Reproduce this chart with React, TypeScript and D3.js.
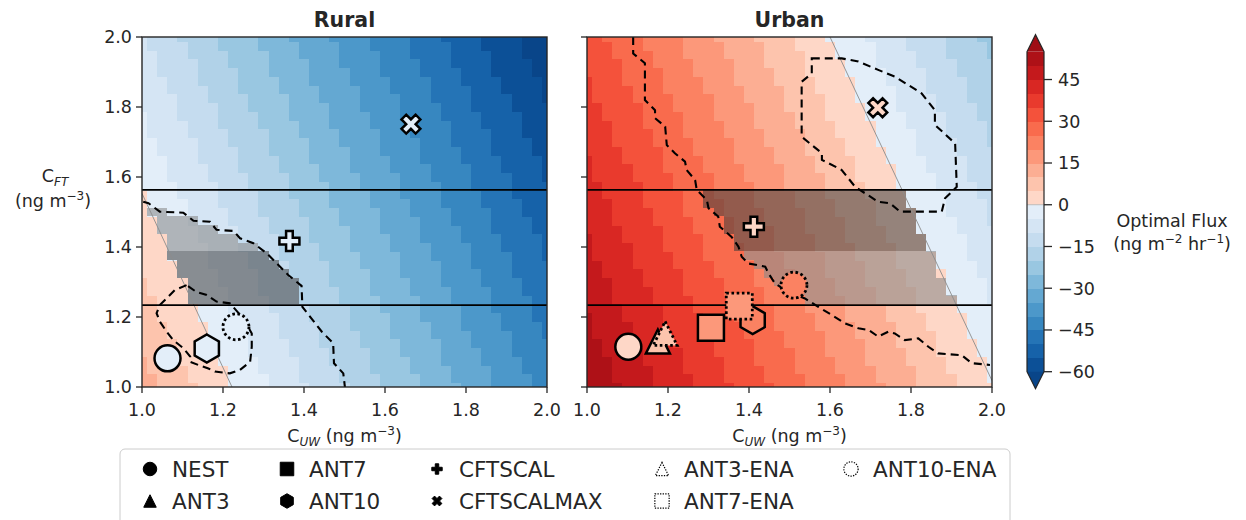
import React from "react";
import * as d3 from "d3";

// ---- data ----
const cuwDomain = [1.0, 2.0];
const cftDomain = [1.0, 2.0];
const gridSpacing = 0.025;

// optimal flux at the panel corners (1,1), (2,1), (1,2), (2,2)
const ruralCornerFlux = [12, -42, -9.7, -64];
const urbanCornerFlux = [54.4, 0.4, 32.4, -21.6];

const fluxLevels = [-60, -55, -50, -45, -40, -35, -30, -25, -20, -15, -10, -5, 0, 5, 10, 15, 20, 25, 30, 35, 40, 45, 50, 55];
const colorbarTicks = [45, 30, 15, 0, -15, -30, -45, -60];

const cftBandLines = [1.234, 1.563];
const shadeRows = [1.25, 1.55];
const shadeSplit = 1.4;

const ruralDashedMain = [
  [1.003, 1.529], [1.016, 1.525], [1.044, 1.501], [1.102, 1.498], [1.127, 1.475], [1.168, 1.472],
  [1.184, 1.449], [1.226, 1.446], [1.242, 1.425], [1.275, 1.411], [1.308, 1.382], [1.361, 1.32],
  [1.394, 1.289], [1.396, 1.229], [1.444, 1.158], [1.472, 1.125], [1.474, 1.068], [1.497, 1.039], [1.501, 1.0],
];
const ruralDashedLoop = [
  [1.110, 1.291], [1.081, 1.277], [1.044, 1.234], [1.036, 1.211], [1.044, 1.187], [1.061, 1.158],
  [1.077, 1.134], [1.102, 1.111], [1.119, 1.087], [1.119, 1.072], [1.139, 1.063], [1.164, 1.053],
  [1.180, 1.044], [1.217, 1.039], [1.242, 1.049], [1.267, 1.072], [1.271, 1.115], [1.271, 1.153],
  [1.250, 1.196], [1.225, 1.229], [1.217, 1.239], [1.184, 1.244], [1.160, 1.263], [1.135, 1.271],
];
const urbanDashedMain = [
  [1.114, 2.0], [1.114, 1.953], [1.143, 1.925], [1.143, 1.82], [1.168, 1.791], [1.168, 1.768],
  [1.193, 1.744], [1.197, 1.691], [1.217, 1.668], [1.242, 1.644], [1.246, 1.62], [1.267, 1.591],
  [1.271, 1.563], [1.296, 1.534], [1.3, 1.511], [1.324, 1.487], [1.328, 1.458], [1.357, 1.429],
  [1.374, 1.401], [1.382, 1.372], [1.398, 1.353], [1.44, 1.344], [1.448, 1.325], [1.464, 1.296],
  [1.497, 1.272], [1.538, 1.253], [1.571, 1.229], [1.604, 1.206], [1.637, 1.182], [1.67, 1.168],
  [1.695, 1.163], [1.719, 1.144], [1.744, 1.158], [1.76, 1.153], [1.785, 1.134], [1.818, 1.139],
  [1.843, 1.115], [1.867, 1.096], [1.925, 1.091], [1.95, 1.068], [1.995, 1.063],
];
const urbanDashedLoop = [
  [1.555, 1.939], [1.629, 1.939], [1.67, 1.93], [1.719, 1.906], [1.76, 1.887], [1.826, 1.839],
  [1.859, 1.791], [1.859, 1.749], [1.909, 1.696], [1.913, 1.572], [1.884, 1.539], [1.876, 1.501],
  [1.773, 1.501], [1.748, 1.525], [1.719, 1.529], [1.662, 1.572], [1.629, 1.62], [1.58, 1.649],
  [1.58, 1.668], [1.53, 1.715], [1.53, 1.872], [1.555, 1.896],
];

const legendOrder = ["NEST", "ANT3", "ANT7", "ANT10", "CFTSCAL", "CFTSCALMAX", "ANT3-ENA", "ANT7-ENA", "ANT10-ENA"];

const ruralMarkers = [
  { name: "NEST", cuw: 1.063, cft: 1.082, flux: -2 },
  { name: "ANT10", cuw: 1.16, cft: 1.11, flux: -2 },
  { name: "CFTSCAL", cuw: 1.364, cft: 1.417, flux: -1 },
  { name: "CFTSCALMAX", cuw: 1.664, cft: 1.751, flux: -1 },
  { name: "ANT10-ENA", cuw: 1.232, cft: 1.172, flux: -3 },
];
const urbanMarkers = [
  { name: "NEST", cuw: 1.102, cft: 1.115, flux: 3 },
  { name: "ANT3", cuw: 1.175, cft: 1.13, flux: 7 },
  { name: "ANT7", cuw: 1.306, cft: 1.169, flux: 18 },
  { name: "ANT10", cuw: 1.409, cft: 1.191, flux: 24 },
  { name: "CFTSCAL", cuw: 1.412, cft: 1.458, flux: 2 },
  { name: "CFTSCALMAX", cuw: 1.718, cft: 1.798, flux: 3 },
  { name: "ANT3-ENA", cuw: 1.193, cft: 1.153, flux: 7 },
  { name: "ANT7-ENA", cuw: 1.376, cft: 1.231, flux: 18 },
  { name: "ANT10-ENA", cuw: 1.511, cft: 1.291, flux: 22 },
];

// ---- styling ----
const FONT = "DejaVu Sans, sans-serif";
const INK = "#262626";
const TOP = 37, PW = 405, PH = 350;
const FS = 17.5;
const SUP = 12;

const nNeg = fluxLevels.filter(l => l < 0).length;
const nPos = fluxLevels.length - 1 - nNeg;
const bandColors = fluxLevels.slice(0, -1).map((lv, k) =>
  k < nNeg
    ? d3.interpolateBlues(0.88 - (k * (0.88 - 0.1)) / (nNeg - 1))
    : d3.interpolateReds(0.15 + ((k - nNeg) * (0.84 - 0.15)) / (nPos - 1))
);
const underColor = d3.interpolateBlues(0.92);
const overColor = d3.interpolateReds(0.88);

function fluxColor(f) {
  const lo = fluxLevels[0], hi = fluxLevels[fluxLevels.length - 1];
  if (f < lo) return underColor;
  if (f >= hi) return overColor;
  return bandColors[Math.floor((f - lo) / 5)];
}

function fieldAt(c, cuw, cft) {
  const u = (cuw - cuwDomain[0]) / (cuwDomain[1] - cuwDomain[0]);
  const v = (cft - cftDomain[0]) / (cftDomain[1] - cftDomain[0]);
  return c[0] * (1 - u) * (1 - v) + c[1] * u * (1 - v) + c[2] * (1 - u) * v + c[3] * u * v;
}

function zeroCrossings(c) {
  const pts = [];
  const edge = (a, b, mk) => {
    if ((a <= 0 && b >= 0) || (a >= 0 && b <= 0)) {
      if (a !== b) pts.push(mk(-a / (b - a)));
    }
  };
  edge(c[0], c[1], t => [1 + t, 1]);
  edge(c[2], c[3], t => [1 + t, 2]);
  edge(c[0], c[2], t => [1, 1 + t]);
  edge(c[1], c[3], t => [2, 1 + t]);
  return pts.slice(0, 2);
}

function markerKind(name) {
  if (name === "NEST" || name === "ANT10-ENA") return "circle";
  if (name.startsWith("ANT3")) return "triangle";
  if (name.startsWith("ANT7")) return "square";
  if (name === "ANT10") return "hexagon";
  if (name === "CFTSCAL") return "plus";
  return "x";
}

function markerPath(kind, s) {
  if (kind === "circle") {
    const r = 13 * s;
    return `M${r},0A${r},${r} 0 1 1 ${-r},0A${r},${r} 0 1 1 ${r},0Z`;
  }
  if (kind === "triangle") {
    const r = 12 * s;
    return `M0,${-r}L${r},${r}L${-r},${r}Z`;
  }
  if (kind === "square") {
    const r = 13 * s;
    return `M${-r},${-r}H${r}V${r}H${-r}Z`;
  }
  if (kind === "hexagon") {
    const r = 14 * s;
    return d3.range(6).map(k => {
      const a = -Math.PI / 2 + (k * Math.PI) / 3;
      return `${k ? "L" : "M"}${r * Math.cos(a)},${r * Math.sin(a)}`;
    }).join("") + "Z";
  }
  const u = (10 * s) / 3;
  const base = [[-1, -3], [-1, -1], [-3, -1], [-3, 1], [-1, 1], [-1, 3], [1, 3], [1, 1], [3, 1], [3, -1], [1, -1], [1, -3]];
  const rot = kind === "x" ? Math.PI / 4 : 0;
  return base.map(([px, py], k) => {
    const rx = px * Math.cos(rot) - py * Math.sin(rot);
    const ry = px * Math.sin(rot) + py * Math.cos(rot);
    return `${k ? "L" : "M"}${rx * u},${ry * u}`;
  }).join("") + "Z";
}

const lightShade = { fill: "#8a8a8a", opacity: 0.58 };
const darkShade = { fill: "#3c3c3c", opacity: 0.54 };

function Panel({ title, left, corners, markers, dashedLines, dashedLoops, region, sign, upperShade, lowerShade, yLabels }) {
  const x = d3.scaleLinear(cuwDomain, [left, left + PW]);
  const y = d3.scaleLinear(cftDomain, [TOP + PH, TOP]);
  const n = Math.round((cuwDomain[1] - cuwDomain[0]) / gridSpacing);
  const nodes = d3.range(n + 1).map(i => cuwDomain[0] + i * gridSpacing);
  const half = gridSpacing / 2;
  const clipId = `clip-${title}`;
  const line = d3.line().x(d => x(d[0])).y(d => y(d[1]));
  const loop = d3.line().x(d => x(d[0])).y(d => y(d[1])).curve(d3.curveLinearClosed);
  const zero = zeroCrossings(corners);

  const cells = [];
  const shades = [];
  nodes.forEach((cx, i) => {
    nodes.forEach((cy, j) => {
      const f = fieldAt(corners, cx, cy);
      const rect = {
        key: `${i}-${j}`,
        x: x(cx - half), y: y(cy + half),
        w: x(cx + half) - x(cx - half), h: y(cy - half) - y(cy + half),
      };
      cells.push({ ...rect, fill: fluxColor(f) });
      if (cy >= shadeRows[0] - 1e-6 && cy <= shadeRows[1] + 1e-6 && f * sign > 0 && d3.polygonContains(region, [cx, cy])) {
        shades.push({ ...rect, style: cy >= shadeSplit - 1e-6 ? upperShade : lowerShade });
      }
    });
  });

  const ticks = x.ticks(5);
  const fmt = d3.format(".1f");

  return (
    <g>
      <defs>
        <clipPath id={clipId}>
          <rect x={left} y={TOP} width={PW} height={PH} />
        </clipPath>
      </defs>
      <g clipPath={`url(#${clipId})`}>
        <g shapeRendering="crispEdges">
          {cells.map(c => (
            <rect key={c.key} x={c.x} y={c.y} width={c.w + 0.5} height={c.h + 0.5} fill={c.fill} />
          ))}
          {shades.map(c => (
            <rect key={"s" + c.key} x={c.x} y={c.y} width={c.w} height={c.h} fill={c.style.fill} fillOpacity={c.style.opacity} />
          ))}
        </g>
        {zero.length === 2 && (
          <line x1={x(zero[0][0])} y1={y(zero[0][1])} x2={x(zero[1][0])} y2={y(zero[1][1])} stroke="#8c8c8c" strokeWidth={0.9} />
        )}
        {cftBandLines.map(v => (
          <line key={v} x1={left} x2={left + PW} y1={y(v)} y2={y(v)} stroke="#000" strokeWidth={1.8} />
        ))}
        {dashedLines.map((pts, k) => (
          <path key={"dl" + k} d={line(pts)} fill="none" stroke="#000" strokeWidth={2.1} strokeDasharray="8,5" />
        ))}
        {dashedLoops.map((pts, k) => (
          <path key={"dp" + k} d={loop(pts)} fill="none" stroke="#000" strokeWidth={2.1} strokeDasharray="8,5" />
        ))}
        {markers.map(m => {
          const ena = m.name.endsWith("-ENA");
          return (
            <path
              key={m.name}
              transform={`translate(${x(m.cuw)},${y(m.cft)})`}
              d={markerPath(markerKind(m.name), 1)}
              fill={fluxColor(m.flux)}
              stroke="#000"
              strokeWidth={ena ? 2.8 : 2.5}
              strokeLinejoin="miter"
              strokeDasharray={ena ? "2.6,2.6" : undefined}
            />
          );
        })}
      </g>
      <rect x={left} y={TOP} width={PW} height={PH} fill="none" stroke={INK} strokeWidth={1.4} />
      {ticks.map(t => (
        <g key={"x" + t}>
          <line x1={x(t)} x2={x(t)} y1={TOP + PH} y2={TOP + PH + 6} stroke={INK} strokeWidth={1.3} />
          <text x={x(t)} y={TOP + PH + 29} textAnchor="middle" fontSize={FS} fill={INK}>{fmt(t)}</text>
        </g>
      ))}
      {y.ticks(5).map(t => (
        <g key={"y" + t}>
          <line x1={left - 6} x2={left} y1={y(t)} y2={y(t)} stroke={INK} strokeWidth={1.3} />
          {yLabels && (
            <text x={left - 10} y={y(t) + 6.3} textAnchor="end" fontSize={FS} fill={INK}>{fmt(t)}</text>
          )}
        </g>
      ))}
      <text x={left + PW / 2} y={27} textAnchor="middle" fontSize={20.5} fontWeight="bold" fill={INK}>{title}</text>
      <text x={left + PW / 2} y={442} textAnchor="middle" fontSize={FS} fill={INK}>
        <tspan>C</tspan>
        <tspan fontSize={SUP} fontStyle="italic" dy={3.5}>UW</tspan>
        <tspan dy={-3.5}> (ng m</tspan>
        <tspan fontSize={SUP} dy={-7}>−3</tspan>
        <tspan dy={7}>)</tspan>
      </text>
    </g>
  );
}

function Colorbar() {
  const x0 = 1027, w = 17;
  const lo = fluxLevels[0], hi = fluxLevels[fluxLevels.length - 1];
  const yc = d3.scaleLinear([lo, hi], [371.7, 51.7]);
  const outline = `M${x0},${yc(hi)}L${x0 + w / 2},${yc(hi) - 17}L${x0 + w},${yc(hi)}L${x0 + w},${yc(lo)}L${x0 + w / 2},${yc(lo) + 17}L${x0},${yc(lo)}Z`;
  return (
    <g>
      <g shapeRendering="crispEdges">
        {fluxLevels.slice(0, -1).map((lv, k) => (
          <rect key={lv} x={x0} y={yc(lv + 5)} width={w} height={yc(lv) - yc(lv + 5) + 0.5} fill={bandColors[k]} />
        ))}
      </g>
      <path d={`M${x0},${yc(hi)}L${x0 + w / 2},${yc(hi) - 17}L${x0 + w},${yc(hi)}Z`} fill={overColor} />
      <path d={`M${x0},${yc(lo)}L${x0 + w / 2},${yc(lo) + 17}L${x0 + w},${yc(lo)}Z`} fill={underColor} />
      <line x1={x0} x2={x0 + w} y1={yc(0)} y2={yc(0)} stroke="#bdbdbd" strokeWidth={1} />
      <path d={outline} fill="none" stroke={INK} strokeWidth={1.2} />
      {colorbarTicks.map(t => (
        <g key={t}>
          <line x1={x0 + w} x2={x0 + w + 8} y1={yc(t)} y2={yc(t)} stroke={INK} strokeWidth={1.3} />
          <text x={x0 + w + 14} y={yc(t) + 6.3} fontSize={FS} fill={INK}>{String(t).replace("-", "−")}</text>
        </g>
      ))}
      <text x={1172} y={227} textAnchor="middle" fontSize={FS} fill={INK}>Optimal Flux</text>
      <text x={1172} y={250} textAnchor="middle" fontSize={FS} fill={INK}>
        <tspan>(ng m</tspan>
        <tspan fontSize={SUP} dy={-7}>−2</tspan>
        <tspan dy={7}> hr</tspan>
        <tspan fontSize={SUP} dy={-7}>−1</tspan>
        <tspan dy={7}>)</tspan>
      </text>
    </g>
  );
}

function Legend() {
  const colMarkerX = [150, 287, 437, 662, 851];
  const rowY = [469, 501];
  return (
    <g>
      <rect x={120} y={449} width={890} height={90} rx={5} fill="#fff" fillOpacity={0.85} stroke="#cccccc" strokeWidth={1} />
      {legendOrder.map((name, k) => {
        const col = Math.floor(k / 2), row = k % 2;
        const ena = name.endsWith("-ENA");
        const mx = colMarkerX[col], my = rowY[row];
        return (
          <g key={name}>
            <path
              transform={`translate(${mx},${my})`}
              d={markerPath(markerKind(name), ena ? 0.55 : 0.52)}
              fill={ena ? "#fff" : "#000"}
              stroke="#000"
              strokeWidth={ena ? 1.2 : 1}
              strokeDasharray={ena ? "1.3,1.3" : undefined}
            />
            <text x={mx + 22} y={my + 7.5} fontSize={21.5} fill={INK}>{name}</text>
          </g>
        );
      })}
    </g>
  );
}

export default function App() {
  const ruralRegion = [...ruralDashedMain, [1.51, 0.99], [0.99, 0.99], [0.99, 1.529]];
  const urbanRegion = [...urbanDashedMain, [2.01, 1.063], [2.01, 2.01], [1.114, 2.01]];
  return (
    <svg width={1246} height={520} style={{ position: "absolute", left: 0, top: 0, background: "#fff" }} fontFamily={FONT}>
      <Panel
        title="Rural" left={142} corners={ruralCornerFlux} markers={ruralMarkers}
        dashedLines={[ruralDashedMain]} dashedLoops={[ruralDashedLoop]}
        region={ruralRegion} sign={-1} upperShade={lightShade} lowerShade={darkShade} yLabels={true}
      />
      <Panel
        title="Urban" left={587} corners={urbanCornerFlux} markers={urbanMarkers}
        dashedLines={[urbanDashedMain]} dashedLoops={[urbanDashedLoop]}
        region={urbanRegion} sign={1} upperShade={darkShade} lowerShade={lightShade} yLabels={false}
      />
      <text x={55} y={182} textAnchor="middle" fontSize={FS} fill={INK}>
        <tspan>C</tspan>
        <tspan fontSize={SUP} fontStyle="italic" dy={3.5}>FT</tspan>
      </text>
      <text x={53} y={207} textAnchor="middle" fontSize={FS} fill={INK}>
        <tspan>(ng m</tspan>
        <tspan fontSize={SUP} dy={-7}>−3</tspan>
        <tspan dy={7}>)</tspan>
      </text>
      <Colorbar />
      <Legend />
    </svg>
  );
}
